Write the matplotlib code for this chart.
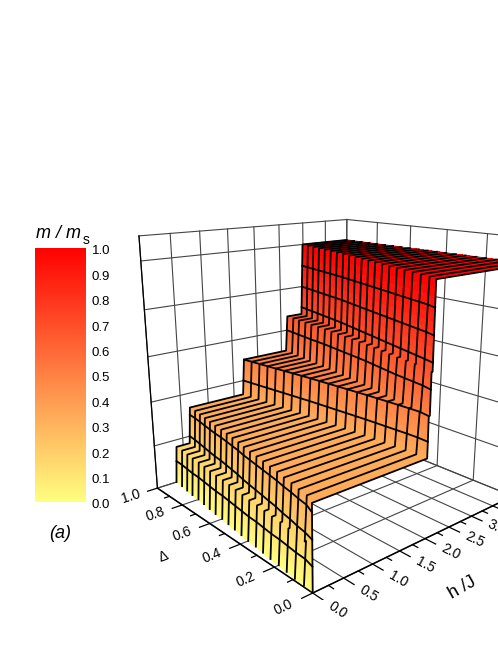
import numpy as np
import matplotlib
matplotlib.use('Agg')
from matplotlib import pyplot as plt
from matplotlib.colors import LinearSegmentedColormap
from matplotlib.transforms import ScaledTranslation

plt.rcParams['font.family'] = ['Liberation Sans', 'DejaVu Sans']

# field of every transition for each anisotropy value
delta = [0.0, 0.05, 0.1, 0.15, 0.2, 0.25, 0.3, 0.35, 0.4, 0.45, 0.5,
         0.55, 0.6, 0.65, 0.7, 0.75, 0.8, 0.85, 0.9, 0.95, 1.0]
h_c = [0.0, 0.02, 0.03, 0.05, 0.07, 0.08, 0.10, 0.12, 0.13, 0.15, 0.17,
       0.19, 0.21, 0.22, 0.24, 0.26, 0.28, 0.29, 0.31, 0.33, 0.34]
h_1 = [0.0, 0.04, 0.07, 0.11, 0.14, 0.18, 0.21, 0.24, 0.27, 0.30, 0.33,
       0.37, 0.40, 0.43, 0.46, 0.48, 0.51, 0.54, 0.57, 0.60, 0.62]
h_2 = [1.98, 1.975, 1.97, 1.96, 1.95, 1.94, 1.93, 1.915, 1.90, 1.885, 1.87,
       1.855, 1.84, 1.82, 1.80, 1.78, 1.76, 1.74, 1.72, 1.70, 1.68]
h_3 = [2.0, 2.03, 2.06, 2.09, 2.12, 2.16, 2.20, 2.24, 2.28, 2.31, 2.34,
       2.37, 2.40, 2.43, 2.46, 2.48, 2.50, 2.53, 2.55, 2.58, 2.60]
h_4 = [2.02, 2.07, 2.12, 2.17, 2.22, 2.27, 2.32, 2.37, 2.42, 2.47, 2.52,
       2.57, 2.62, 2.67, 2.71, 2.75, 2.79, 2.83, 2.87, 2.91, 2.95]
plateaus = [0.0, 1/6, 1/3, 1/2, 2/3, 1.0]
contours = [0.1, 0.2, 0.3, 0.4, 0.5, 0.6, 0.7, 0.8, 0.9]

h_ticks = [0.0, 0.5, 1.0, 1.5, 2.0, 2.5, 3.0, 3.5, 4.0]
h_minor = [0.25, 0.75, 1.25, 1.75, 2.25, 2.75, 3.25, 3.75]
d_ticks = [0.0, 0.2, 0.4, 0.6, 0.8, 1.0]
d_minor = [0.1, 0.3, 0.5, 0.7, 0.9]
z_ticks = [0.0, 0.2, 0.4, 0.6, 0.8, 1.0, 1.1]
bar_ticks = [0.0, 0.1, 0.2, 0.3, 0.4, 0.5, 0.6, 0.7, 0.8, 0.9, 1.0]

H_MAX = 4.0
Z_MAX = 1.1
RISE = 0.04

cmap = LinearSegmentedColormap.from_list(
    'mag', [(0.0, '#FFFF80'), (0.35, '#FFA858'), (1.0, '#FF0000')])


def build_surface():
    # one row per delta, rows share their z values so the risers line up
    starts = np.array([h_c, h_1, h_2, h_3, h_4])
    d = np.array(delta)
    rows_h, rows_z = [], []
    for i in range(len(plateaus) - 1):
        for t in np.linspace(0, 1, 12):
            rows_h.append(starts[i] + t * RISE * (d > 0))
            rows_z.append(plateaus[i] + t * (plateaus[i + 1] - plateaus[i]))
    rows_h.append(np.full(len(d), H_MAX))
    rows_z.append(1.0)
    rows_h = np.array(rows_h)
    rows_z = np.array(rows_z)
    D = np.tile(d, (len(rows_z), 1))
    Z = np.tile(rows_z[:, None], (1, len(d)))
    return rows_h, D, Z


H, D, Z = build_surface()

fig = plt.figure(figsize=(4.98, 6.45), dpi=100)

size = 445
cx, cy = 327, 377
ax = fig.add_axes([(cx - size / 2) / 498, 1 - (cy + size / 2) / 645, size / 498, size / 645],
                  projection='3d')
ax.set_proj_type('persp', focal_length=0.31)
ax.view_init(elev=16.5, azim=-131)
ax.set_box_aspect((0.72, 0.694, 0.71))
ax.set_xlim(0, H_MAX, view_margin=0)
ax.set_ylim(0, 1, view_margin=0)
ax.set_zlim(0, Z_MAX, view_margin=0)
ax.set_axis_off()
ax.computed_zorder = False
ax.patch.set_alpha(0)

grid = dict(color='#444444', lw=0.8, zorder=1)
for v in h_ticks:
    ax.plot([v, v], [0, 1], [0, 0], **grid)
    ax.plot([v, v], [1, 1], [0, Z_MAX], **grid)
for v in d_ticks:
    ax.plot([0, H_MAX], [v, v], [0, 0], **grid)
    ax.plot([H_MAX, H_MAX], [v, v], [0, Z_MAX], **grid)
for v in z_ticks:
    ax.plot([0, H_MAX], [1, 1], [v, v], **grid)
    ax.plot([H_MAX, H_MAX], [0, 1], [v, v], **grid)

mid = 0.5 * (Z[:-1, :-1] + Z[1:, 1:])
faces = cmap(np.clip(mid, 0, 1))
surf = ax.plot_surface(H, D, Z, facecolors=faces, shade=False, rstride=1, cstride=1,
                       linewidth=0, antialiased=False, zorder=2)

# black lines along h at every delta
for j, d in enumerate(delta):
    ax.plot(H[:, j], D[:, j], Z[:, j], color='black', lw=1.3, zorder=3,
            solid_joinstyle='round')

# contour lines across the risers
for level in contours:
    k = np.searchsorted(Z[:, 0], level)
    t = (level - Z[k - 1, 0]) / (Z[k, 0] - Z[k - 1, 0])
    line_h = H[k - 1] + t * (H[k] - H[k - 1])
    ax.plot(line_h, delta, np.full(len(delta), level), color='black', lw=1.3, zorder=3)

# floor axes with ticks and labels
ax.plot([0, H_MAX], [0, 0], [0, 0], color='black', lw=1.1, zorder=4)
ax.plot([0, 0], [0, 1], [0, 0], color='black', lw=1.1, zorder=4)
ax.plot([0, 0], [1, 1], [0, Z_MAX], color='black', lw=0.9, zorder=4)
for v in h_ticks:
    ax.plot([v, v], [0, -0.05], [0, 0], color='black', lw=0.9, zorder=4)
    ax.text(v, -0.12, 0, '%.1f' % v, zdir='y', fontsize=10, ha='center', va='center')
for v in h_minor:
    ax.plot([v, v], [0, -0.025], [0, 0], color='black', lw=0.9, zorder=4)
for v in d_ticks:
    ax.plot([0, -0.17], [v, v], [0, 0], color='black', lw=0.9, zorder=4)
    ax.text(-0.45, v, 0, '%.1f' % v, zdir='x', fontsize=10, ha='center', va='center')
for v in d_minor:
    ax.plot([0, -0.085], [v, v], [0, 0], color='black', lw=0.9, zorder=4)
ax.text(-0.95, 0.5, 0, '\u0394', zdir='x', fontsize=10, ha='center', va='center')
ax.text(1.45, -0.29, 0, 'h /J', zdir='x', fontsize=13, ha='center', va='center')

# colour bar
bar = fig.add_axes([35 / 498, 1 - 502 / 645, 50 / 498, 254 / 645])
bar.imshow(np.linspace(0, 1, 256)[:, None], cmap=cmap, origin='lower', aspect='auto',
           extent=(0, 1, 0, 1))
bar.set_xticks([])
bar.yaxis.tick_right()
bar.set_yticks(bar_ticks)
bar.set_yticklabels(['%.1f' % v for v in bar_ticks], fontsize=9.5)
bar.tick_params(axis='y', length=0, pad=5)
for lab in bar.get_yticklabels():
    lab.set_transform(lab.get_transform() + ScaledTranslation(0, -2 / 100, fig.dpi_scale_trans))
for s in bar.spines.values():
    s.set_visible(False)

fig.text(36 / 498, 1 - 233 / 645, 'm / m', fontsize=13, style='italic', va='center')
fig.text(83 / 498, 1 - 240 / 645, 's', fontsize=10, va='center')
fig.text(60 / 498, 1 - 534 / 645, '(a)', fontsize=13, style='italic', ha='center', va='center')

fig.savefig('out.png', dpi=100)
